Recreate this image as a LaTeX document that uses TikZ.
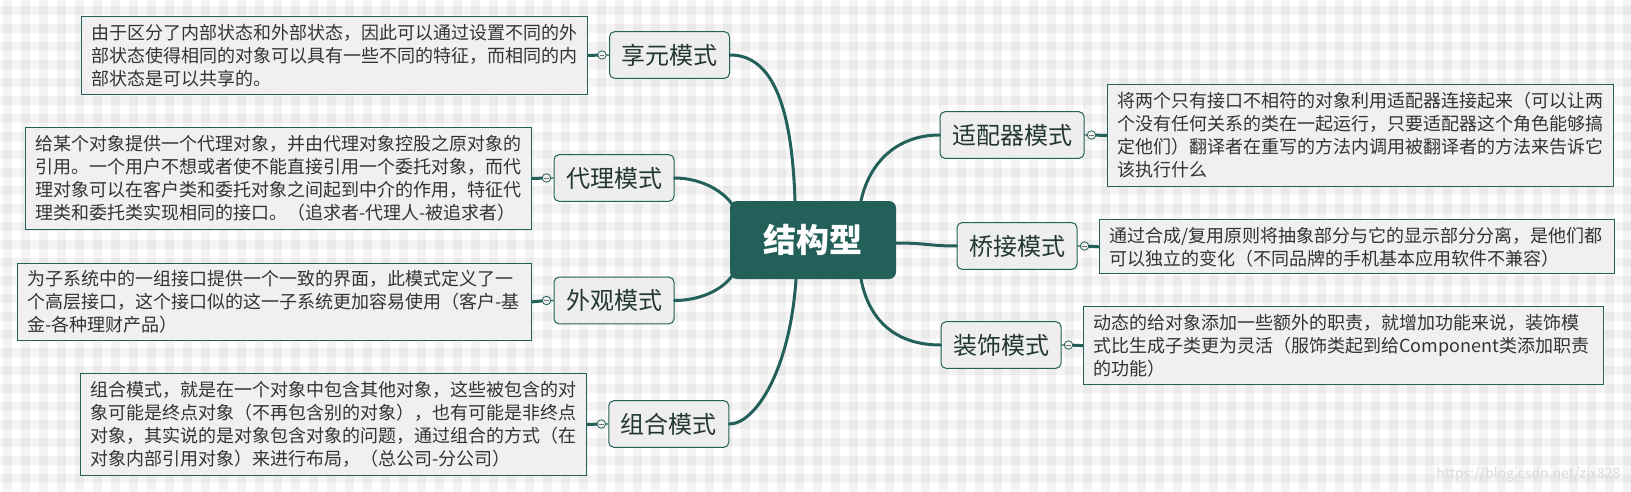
\documentclass[tikz,border=0pt]{standalone}
\usepackage{fontspec}
\setmainfont{Noto Sans CJK SC}
\usetikzlibrary{calc}
\exhyphenpenalty=10000
\hyphenpenalty=10000
\hfuzz=30pt
\definecolor{teal1}{RGB}{34,96,89}
\definecolor{nodefill}{RGB}{238,238,238}
\definecolor{descfill}{RGB}{240,240,240}
\definecolor{txt}{RGB}{51,51,51}
\definecolor{ntxt}{RGB}{35,55,52}
\begin{document}
\begin{tikzpicture}[x=1pt,y=-1pt,
  topic/.style={draw=teal1, line width=1pt, fill=nodefill, rounded corners=5pt,
    minimum height=46.6pt, inner xsep=12pt, inner ysep=0pt,
    font=\fontsize{24}{28}\selectfont, text=ntxt},
  desc/.style n args={2}{draw=teal1, line width=1pt, fill=descfill, anchor=north west,
    inner xsep=10pt, inner ysep=0pt, align=left, text width=#1pt, minimum height=#2pt,
    font=\fontsize{18}{23}\selectfont, text=txt},
  root/.style={fill=teal1, rounded corners=7pt, minimum width=166pt, minimum height=78pt,
    text=white, font=\fontsize{33}{36}\selectfont\bfseries},
  link/.style={draw=teal1, line width=3pt, line cap=round},
  stub/.style={draw=teal1, line width=3pt},
  thinlink/.style={draw=teal1, line width=1.2pt},
  btn/.style={circle, draw=teal1, line width=0.8pt, fill=white!94!black, minimum size=8.5pt,
    inner sep=0pt, path picture={\draw[black!55, line width=0.8pt]
      ([xshift=-2.3pt]path picture bounding box.center) -- ([xshift=2.3pt]path picture bounding box.center);}},
  stripe/.style={fill=black, opacity=0.045}
]
\useasboundingbox (0,0) rectangle (1631,492);
\fill[white] (0,0) rectangle (1631,492);
\foreach \i in {0,...,90} \fill[stripe] (3.3+18*\i,0) rectangle ++(9,492);
\foreach \j in {0,...,27} \fill[stripe] (0,6+18*\j) rectangle ++(1631,9);

% root
\node[root] (ctr) at (813,240) {结构型};

% topics
\node[topic] (xy) at (669.5,55) {享元模式};
\node[topic] (dl) at (614,178) {代理模式};
\node[topic] (wg) at (614,300.5) {外观模式};
\node[topic] (zh) at (668.8,424) {组合模式};
\node[topic] (sp) at (1012,135) {适配器模式};
\node[topic] (qj) at (1017,246) {桥接模式};
\node[topic] (zs) at (1001,345) {装饰模式};

% descriptions
\node[desc={486}{78}] (dxy) at (81,16) {由于区分了内部状态和外部状态，因此可以通过设置不同的外\\部状态使得相同的对象可以具有一些不同的特征，而相同的内\\部状态是可以共享的。};
\node[desc={486.4}{102}] (ddl) at (24.6,127) {给某个对象提供一个代理对象，并由代理对象控股之原对象的\\引用。一个用户不想或者使不能直接引用一个委托对象，而代\\理对象可以在客户类和委托对象之间起到中介的作用，特征代\\理类和委托类实现相同的接口。（追求者-代理人-被追求者）};
\node[desc={494.3}{77.3}] (dwg) at (16.7,262.7) {为子系统中的一组接口提供一个一致的界面，此模式定义了一\\个高层接口，这个接口似的这一子系统更加容易使用（客户-基\\金-各种理财产品）};
\node[desc={486.5}{102}] (dzh) at (79.5,373) {组合模式，就是在一个对象中包含其他对象，这些被包含的对\\象可能是终点对象（不再包含别的对象），也有可能是非终点\\对象，其实说的是对象包含对象的问题，通过组合的方式（在\\对象内部引用对象）来进行布局，（总公司-分公司）};
\node[desc={486}{102}] (dsp) at (1107,84) {将两个只有接口不相符的对象利用适配器连接起来（可以让两\\个没有任何关系的类在一起运行，只要适配器这个角色能够搞\\定他们）翻译者在重写的方法内调用被翻译者的方法来告诉它\\该执行什么};
\node[desc={495}{54}] (dqj) at (1099,219.3) {通过合成/复用原则将抽象部分与它的显示部分分离，是他们都\\可以独立的变化（不同品牌的手机基本应用软件不兼容）};
\node[desc={500}{78.3}] (dzs) at (1083,306) {动态的给对象添加一些额外的职责，就增加功能来说，装饰模\\式比生成子类更为灵活（服饰类起到给Component类添加职责\\的功能）};

% curves from root
\draw[link] ([xshift=-18pt]ctr.north) .. controls +(-3,-91) and +(44,0) .. (xy.east);
\draw[link] (dl.east) .. controls +(25,0) and +(-10,-14) .. ($(ctr.north west)+(2,3)$);
\draw[link] (wg.east) .. controls +(25,0) and +(-10,14) .. ($(ctr.south west)+(2,-3)$);
\draw[link] (zh.east) .. controls +(26,0) and +(-6,91) .. ([xshift=-17pt]ctr.south);
\draw[link] ([xshift=48pt]ctr.north) .. controls +(9,-41) and +(-40,0) .. (sp.west);
\draw[link] ($(ctr.east)+(0,3)$) .. controls +(30,0) and +(-27,0) .. (qj.west);
\draw[link] ([xshift=48pt]ctr.south) .. controls +(9,46) and +(-40,0) .. (zs.west);

% stubs to descriptions
\foreach \t/\d/\s in {xy/dxy/-1, dl/ddl/-1, wg/dwg/-1, zh/dzh/-1, sp/dsp/1, qj/dqj/1, zs/dzs/1} {
  \draw[thinlink] (\t.\ifnum\s<0 west\else east\fi) -- (\d.\ifnum\s<0 east\else west\fi);
  \draw[stub] (\d.\ifnum\s<0 east\else west\fi) -- ($(\t.\ifnum\s<0 west\else east\fi)+(7*\s,0)$);
  \node[btn] (b\t) at ($(\t.\ifnum\s<0 west\else east\fi)+(7*\s,0)$) {};
}

\node[anchor=south east, text=white!86!black, font=\fontsize{14}{14}\selectfont] (wm) at (1624,486) {https://blog.csdn.net/zjx828};
\end{tikzpicture}
\end{document}
